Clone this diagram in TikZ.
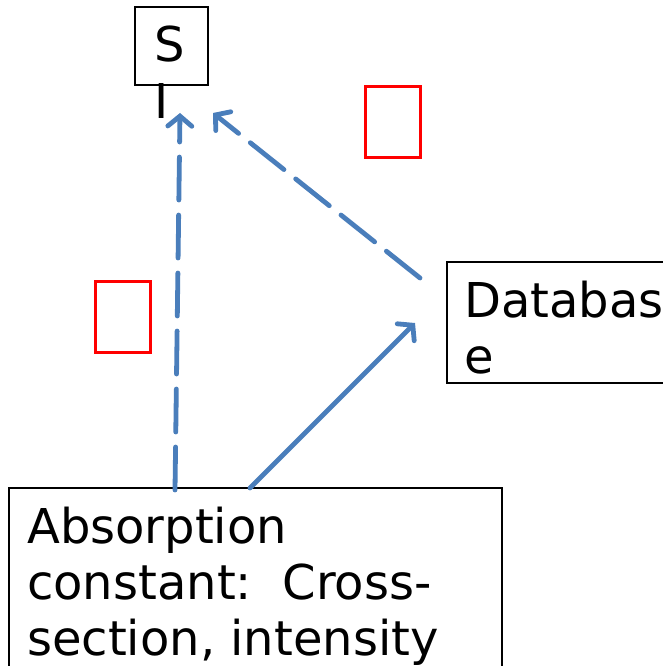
\documentclass[tikz,border=0pt]{standalone}
\usepackage{fontspec}
\setmainfont{DejaVu Sans}
\usetikzlibrary{arrows.meta,positioning}
\definecolor{linkBlue}{RGB}{74, 126, 187}
\definecolor{boxRed}{RGB}{255, 0, 0}

\begin{document}
\begin{tikzpicture}[
        x=1pt, y=-1pt,
        box/.style={rectangle, draw=black, line width=1.8pt, inner sep=0pt},
        redbox/.style={rectangle, draw=boxRed, line width=3.8pt, minimum width=55pt, minimum height=71pt, inner sep=0pt},
        txt/.style={anchor=base west, inner sep=0pt, align=left, font=\fontsize{48}{56}\selectfont},
        link/.style={draw=linkBlue, line width=4.8pt, line cap=round, -{Straight Barb[length=10pt,width=24pt,line cap=round]}},
        dashlink/.style={link, dash pattern=on 43pt off 15pt}
    ]
        \useasboundingbox (0,0) rectangle (663,666);
        \clip (0,0) rectangle (663,666);

        % Boxes
        \node[box, minimum width=73pt, minimum height=78pt] (si) at (171.5,46) {};
        \node[box, minimum width=240pt, minimum height=121pt] (dbbox) at (567,322.5) {};
        \node[box, minimum width=493pt, minimum height=240pt] (absbox) at (255.5,608) {};

        % Texts (anchored at the baseline of their last line)
        \node[txt] (sitext) at (154,118) {S\\I};
        \node[txt] (dbtext) at (464,373) {Databas\\e};
        \node[txt] (abstext) at (27,655) {Absorption\\constant:~~Cross-\\section, intensity};

        % Empty red boxes
        \node[redbox] (red1) at (393,122) {};
        \node[redbox] (red2) at (123,317) {};

        % Arrow ends
        \coordinate (vTail) at (175,490);
        \coordinate (vHead) at (180,113);
        \coordinate (dTail) at (420,278);
        \coordinate (dHead) at (213,113);
        \coordinate (sTail) at (250,488);
        \coordinate (sHead) at (415,323);

        % Arrows
        \draw[dashlink] (vTail) -- (vHead);
        \draw[dashlink] (dTail) -- (dHead);
        \draw[link] (sTail) -- (sHead);
\end{tikzpicture}
\end{document}
